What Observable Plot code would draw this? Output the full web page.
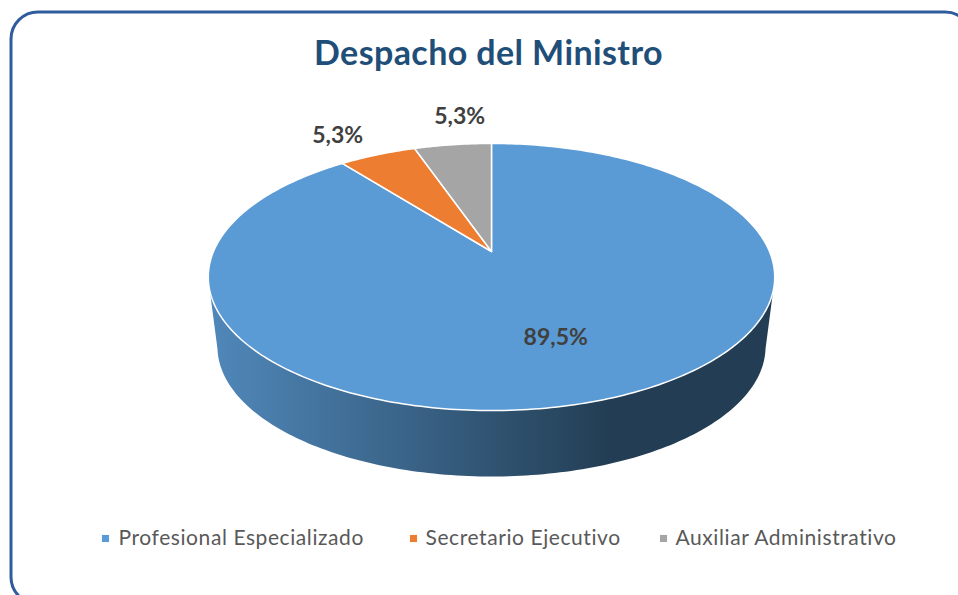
<!DOCTYPE html>
<html>
<head>
<meta charset="utf-8">
<style>
html,body{margin:0;padding:0;background:#fff;overflow:hidden}
svg{display:block}
</style>
<script src="https://cdn.jsdelivr.net/npm/d3@7"></script>
<script src="https://cdn.jsdelivr.net/npm/@observablehq/plot@0.6"></script>
</head>
<body>
<div id="chart"></div>
<script>
const titleText = "Despacho del Ministro";
const categories = ["Profesional Especializado", "Secretario Ejecutivo", "Auxiliar Administrativo"];
const shares = [89.5, 5.3, 5.3];
const colors = ["#5b9bd5", "#ed7d31", "#a5a5a5"];

// layout (pie perspective and label placement)
const W = 958, H = 595;
const topDisc = {cx: 491, cy: 251, a: 278, b: 128.7, k: 0.191};
const baseDisc = {cx: 491, cy: 321.5, a: 269, b: 125, k: 0.191};
const labelRadius = [0.627, 1.275, 1.32];
const labelTurn = [0, -3, 3.3];
const legendSwatchX = [105, 413, 663];
const legendTextX = [118, 425, 675];
const legendY = 538;

const project = (d, deg, r = 1) => {
  const t = deg * Math.PI / 180, u = r * Math.sin(t), v = r * Math.cos(t), w = 1 + d.k * v;
  return [d.cx + d.a * u / w, d.cy - d.b * v / w];
};

const total = d3.sum(shares);
let acc = 0;
const slices = categories.map((category, i) => {
  const start = acc / total * 360;
  acc += shares[i];
  return {category, share: shares[i], start, end: acc / total * 360};
});

const slicePoints = slices.flatMap((s) => {
  const pts = [{category: s.category, p: [topDisc.cx, topDisc.cy]}];
  const n = Math.max(2, Math.ceil(s.end - s.start));
  for (let j = 0; j <= n; ++j) {
    pts.push({category: s.category, p: project(topDisc, s.start + (s.end - s.start) * j / n)});
  }
  pts.push(pts[0]);
  return pts;
});

const rim = (d) => {
  const all = d3.range(0, 360, 1).map((deg) => project(d, deg));
  const mid = (d3.min(all, (p) => p[1]) + d3.max(all, (p) => p[1])) / 2;
  return all.filter((p) => p[1] >= mid).sort((a, b) => a[0] - b[0]);
};
const sidePoints = [...rim(topDisc), ...rim(baseDisc).reverse()];

const labels = slices.map((s, i) => {
  const p = project(topDisc, (s.start + s.end) / 2 + labelTurn[i], labelRadius[i]);
  return {text: s.share.toFixed(1).replace(".", ",") + "%", x: p[0], y: p[1]};
});

const legend = categories.map((category, i) => ({category, sx: legendSwatchX[i], tx: legendTextX[i]}));

const defs = () => {
  const g = d3.create("svg:defs");
  const lg = g.append("linearGradient").attr("id", "sideGrad")
    .attr("gradientUnits", "userSpaceOnUse").attr("x1", 209).attr("x2", 607).attr("y1", 0).attr("y2", 0);
  lg.append("stop").attr("offset", "0%").attr("stop-color", "#5088ba");
  lg.append("stop").attr("offset", "100%").attr("stop-color", "#233e54");
  return g.node();
};

const plot = Plot.plot({
  width: W, height: H,
  margin: 0,
  x: {domain: [0, W], axis: null},
  y: {domain: [H, 0], axis: null},
  color: {domain: categories, range: colors},
  marks: [
    defs,
    Plot.rect([{}], {x1: () => 11, x2: () => 972, y1: () => 12, y2: () => 604, rx: 27, fill: "white", stroke: "#2f5c9e", strokeWidth: 3}),
    Plot.text([titleText], {x: () => 488, y: () => 54, text: (d) => d, fontFamily: "Lato", fontWeight: 700, fontSize: 34, fill: "#1f4e79"}),
    Plot.line(sidePoints, {x: (d) => d[0], y: (d) => d[1], fill: "url(#sideGrad)", stroke: "none"}),
    Plot.line(slicePoints, {x: (d) => d.p[0], y: (d) => d.p[1], z: "category", fill: "category", stroke: "white", strokeWidth: 1.5}),
    Plot.text(labels, {x: "x", y: "y", text: "text", fontFamily: "Lato", fontWeight: 700, fontSize: 23, fill: "#404040"}),
    Plot.dot(legend, {x: "sx", y: () => legendY, symbol: "square", r: 4, fill: "category"}),
    Plot.text(legend, {x: "tx", y: () => legendY, text: "category", textAnchor: "start", fontFamily: "Lato", fontSize: 21, fill: "#595959"})
  ]
});
d3.select(plot).selectAll("text").filter(function () { return categories.includes(this.textContent); }).style("letter-spacing", "0.58px");
d3.select(plot).selectAll("text").filter(function () { return this.textContent === titleText; }).style("letter-spacing", "0.4px");
document.getElementById("chart").appendChild(plot);
</script>
</body>
</html>
